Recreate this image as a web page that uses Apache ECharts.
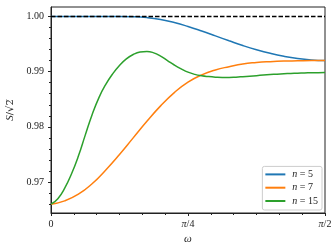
<!DOCTYPE html>
<html>
<head>
<meta charset="utf-8">
<script src="https://cdn.jsdelivr.net/npm/echarts@6/dist/echarts.min.js"></script>
<style>html,body{margin:0;padding:0;background:#fff}#c{width:333px;height:250px}</style>
</head>
<body>
<div id="c"></div>
<script>
// omega / pi
const omegaGrid = [0, 0.025, 0.05, 0.075, 0.1, 0.125, 0.15, 0.175, 0.2, 0.225, 0.25,
  0.275, 0.3, 0.325, 0.35, 0.375, 0.4, 0.425, 0.45, 0.475, 0.5];
const n5Values = [1.0, 1.0, 1.0, 1.0, 1.0, 1.0, 0.99995, 0.99978, 0.99943, 0.99888, 0.99817,
  0.99735, 0.99647, 0.99558, 0.99472, 0.99396, 0.99331, 0.99278, 0.99238, 0.99212, 0.9920];
const n7Values = [0.9660, 0.9666, 0.9678, 0.9697, 0.9722, 0.9750, 0.9780, 0.9810, 0.9838, 0.9862, 0.9881,
  0.9894, 0.9903, 0.9909, 0.9914, 0.99165, 0.9918, 0.9919, 0.99195, 0.9920, 0.9920];
const omegaFine = [0, 0.0125, 0.025, 0.0375, 0.05, 0.0625, 0.075, 0.0875, 0.1, 0.1125, 0.125,
  0.1375, 0.15, 0.1625, 0.175, 0.1875, 0.2, 0.2125, 0.225, 0.2375, 0.25,
  0.2625, 0.275, 0.2875, 0.3, 0.3125, 0.325, 0.3375, 0.35, 0.3625, 0.375,
  0.3875, 0.4, 0.4125, 0.425, 0.4375, 0.45, 0.4625, 0.475, 0.4875, 0.5];
const n15Values = [0.9660, 0.9670, 0.9689, 0.9715, 0.9747, 0.9785, 0.9822, 0.9853, 0.9877, 0.9896, 0.9911,
  0.9923, 0.9931, 0.99355, 0.99365, 0.9934, 0.9928, 0.9920, 0.9912, 0.9905, 0.9899,
  0.9895, 0.98925, 0.9891, 0.98900, 0.98895, 0.98895, 0.98900, 0.98908, 0.98917, 0.98927,
  0.98937, 0.98946, 0.98954, 0.98961, 0.98967, 0.98972, 0.98976, 0.98979, 0.98981, 0.98982];
const refLine = [[0, 1.0], [0.5, 1.0]];
const yMajorTicks = [0.97, 0.98, 0.99, 1.00];
const yMinorTicks = [0.966, 0.968, 0.972, 0.974, 0.976, 0.978, 0.982, 0.984, 0.986, 0.988,
  0.992, 0.994, 0.996, 0.998];
const xTickLabels = {0: '0', 0.25: '{i|π}/4', 0.5: '{i|π}/2'};
const seriesNames = ['n = 5', 'n = 7', 'n = 15'];

const FONT = 'Liberation Serif';
const TXT = '#222';
const zip = (xs, ys) => xs.map((x, i) => [x, ys[i]]);

const chart = echarts.init(document.getElementById('c'), null, {renderer: 'canvas'});
chart.setOption({
  animation: false,
  grid: {left: 51, right: 8, top: 7, bottom: 37, show: true, borderColor: TXT, borderWidth: 1,
    containLabel: false, outerBoundsMode: 'none'},
  xAxis: {
    type: 'value', min: 0, max: 0.5, interval: 0.25,
    name: 'ω', nameLocation: 'middle', nameGap: 19,
    nameTextStyle: {fontFamily: FONT, fontSize: 11, fontStyle: 'italic', color: TXT},
    axisLine: {lineStyle: {color: TXT, width: 1}},
    axisTick: {show: true, length: 3, lineStyle: {color: TXT}},
    minorTick: {show: true, splitNumber: 6, length: 2, lineStyle: {color: TXT}},
    splitLine: {show: false},
    axisLabel: {
      margin: 6, fontFamily: FONT, fontSize: 10, color: TXT,
      formatter: v => { const k = Object.keys(xTickLabels).find(t => Math.abs(t - v) < 1e-6); return k !== undefined ? xTickLabels[k] : ''; },
      rich: {i: {fontFamily: FONT, fontSize: 10, fontStyle: 'italic', color: TXT}}
    }
  },
  yAxis: [{
    type: 'value', min: 0.9644, max: 1.0017,
    name: '{i|S}/√2\u0305', nameLocation: 'middle', nameGap: 24,
    nameTextStyle: {fontFamily: 'DejaVu Serif', fontSize: 10, color: TXT,
      rich: {i: {fontFamily: FONT, fontSize: 11, fontStyle: 'italic', color: TXT}}},
    axisLine: {show: true, lineStyle: {color: TXT, width: 1}},
    axisTick: {show: true, length: 3, customValues: yMajorTicks, lineStyle: {color: TXT}},
    splitLine: {show: false},
    axisLabel: {margin: 7, fontFamily: FONT, fontSize: 10, color: TXT, customValues: yMajorTicks,
      formatter: v => v.toFixed(2)}
  }, {
    type: 'value', min: 0.9644, max: 1.0017, position: 'left',
    axisLine: {show: false},
    axisTick: {show: true, length: 2, customValues: yMinorTicks, lineStyle: {color: TXT}},
    axisLabel: {show: false, customValues: yMinorTicks},
    splitLine: {show: false}
  }],
  legend: {
    data: seriesNames, orient: 'vertical', right: 11, bottom: 40,
    backgroundColor: '#fff', borderColor: '#ccc', borderWidth: 1, borderRadius: 2,
    padding: [2, 4, 3, 3], itemGap: 1.3, itemWidth: 20, itemHeight: 2, icon: 'rect',
    formatter: name => name.replace('n', '{i|n}'),
    textStyle: {fontFamily: FONT, fontSize: 10, color: TXT, lineHeight: 12, padding: [0, 0, 0, 2],
      rich: {i: {fontFamily: FONT, fontSize: 10, fontStyle: 'italic', color: TXT, lineHeight: 12}}}
  },
  series: [
    {name: seriesNames[0], type: 'line', data: zip(omegaGrid, n5Values), smooth: 0.5, symbol: 'none',
      color: '#1f77b4', lineStyle: {width: 1.5, color: '#1f77b4'}},
    {name: seriesNames[1], type: 'line', data: zip(omegaGrid, n7Values), smooth: 0.5, symbol: 'none',
      color: '#ff7f0e', lineStyle: {width: 1.5, color: '#ff7f0e'}},
    {name: seriesNames[2], type: 'line', data: zip(omegaFine, n15Values), smooth: 0.5, symbol: 'none',
      color: '#2ca02c', lineStyle: {width: 1.5, color: '#2ca02c'}},
    {name: 'ref', type: 'line', data: refLine, symbol: 'none', silent: true,
      lineStyle: {width: 1.5, color: '#000', type: [4.5, 2]}}
  ]
});
</script>
</body>
</html>
